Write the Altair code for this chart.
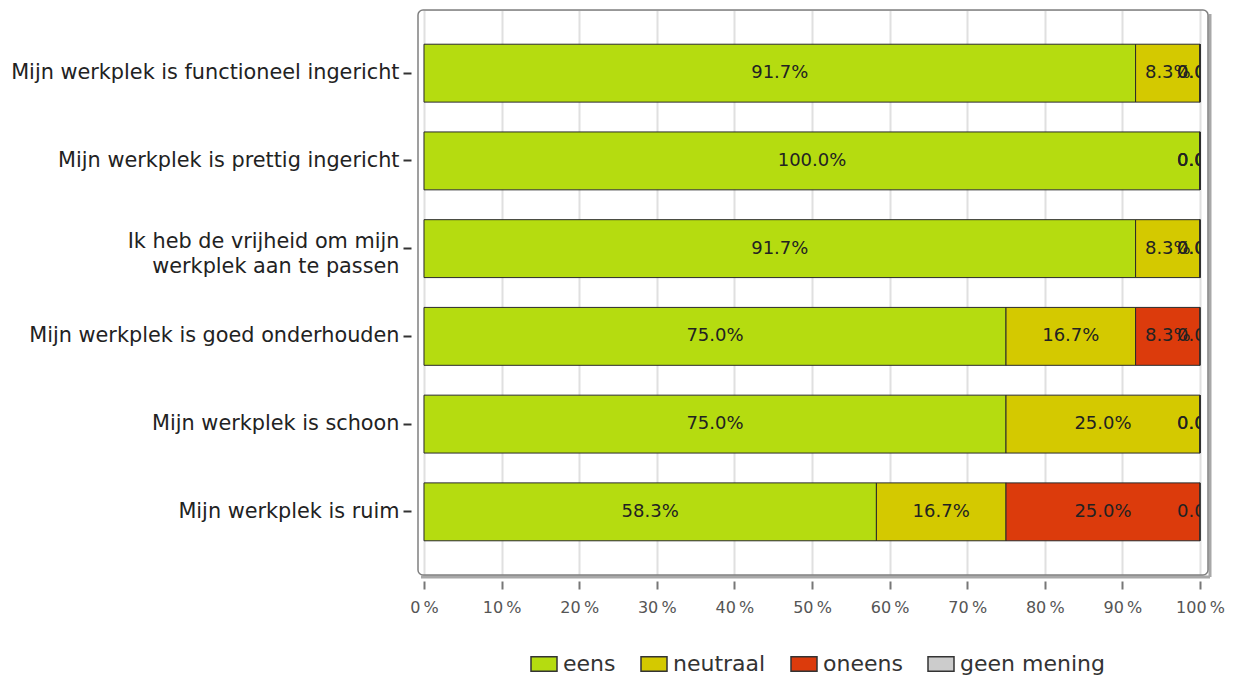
import altair as alt
import pandas as pd

categories = [
    "Mijn werkplek is functioneel ingericht",
    "Mijn werkplek is prettig ingericht",
    "Ik heb de vrijheid om mijn|werkplek aan te passen",
    "Mijn werkplek is goed onderhouden",
    "Mijn werkplek is schoon",
    "Mijn werkplek is ruim",
]
series = ["eens", "neutraal", "oneens", "geen mening"]
colors = ["#b5dc10", "#d4c900", "#dc3b0c", "#cccccc"]
eens = [91.7, 100.0, 91.7, 75.0, 75.0, 58.3]
neutraal = [8.3, 0.0, 8.3, 16.7, 25.0, 16.7]
oneens = [0.0, 0.0, 0.0, 8.3, 0.0, 25.0]
geen_mening = [0.0, 0.0, 0.0, 0.0, 0.0, 0.0]
x_ticks = [0.0, 0.1, 0.2, 0.3, 0.4, 0.5, 0.6, 0.7, 0.8, 0.9, 1.0]

vals = {"eens": eens, "neutraal": neutraal, "oneens": oneens, "geen mening": geen_mening}
rows = []
for i, c in enumerate(categories):
    start = 0.0
    for k, s in enumerate(series):
        v = vals[s][i]
        rows.append({"cat": c, "serie": s, "ord": k, "v": v / 100.0,
                     "start": start / 100.0, "end": (start + v) / 100.0,
                     "mid": (start + v / 2) / 100.0, "lbl": f"{v:.1f}%"})
        start += v
df = pd.DataFrame(rows)

W, H = 776, 565
FONT = "DejaVu Sans"

yenc = alt.Y("cat:N", sort=categories, title=None,
             scale=alt.Scale(paddingInner=0.34, paddingOuter=0.39),
             axis=alt.Axis(labelExpr="split(datum.label, '|')", labelFontSize=20.8,
                           labelColor="#222", labelFont=FONT, labelPadding=4,
                           labelLineHeight=25,
                           labelOffset={"condition": {"test": "indexof(datum.value, '|') >= 0",
                                                      "value": -7}, "value": 0},
                           tickSize=8, tickColor="#333", tickWidth=2, offset=13,
                           domain=False, grid=False, labelLimit=600))
xscale = alt.Scale(domain=[0, 1], nice=False, zero=True)
xaxis = alt.Axis(values=x_ticks,
                 labelExpr="format(datum.value * 100, 'd') + '\u2009%'",
                 labelFontSize=16, labelColor="#555", labelFont=FONT, tickSize=8,
                 tickColor="#777", tickWidth=2, offset=6, labelPadding=10, labelFlush=False,
                 domain=False, grid=True, gridColor="#e0e0e0", gridWidth=2, title=None)

frame_df = pd.DataFrame({"a": [0]})
shadow_r = alt.Chart(frame_df).mark_rule(stroke="#a8a8a8", strokeWidth=3).encode(
    x=alt.value(786), y=alt.value(4), y2=alt.value(567))
shadow_b = alt.Chart(frame_df).mark_rule(stroke="#a8a8a8", strokeWidth=3).encode(
    x=alt.value(-3), x2=alt.value(786), y=alt.value(567))
frame = alt.Chart(frame_df).mark_rect(fill="transparent", stroke="#808080", strokeWidth=1.5,
                                      cornerRadius=5).encode(
    x=alt.value(-6), x2=alt.value(784), y=alt.value(0), y2=alt.value(565))

bars = alt.Chart(df).mark_bar(stroke="#2a2a2a", strokeWidth=1, opacity=1).encode(
    y=yenc,
    x=alt.X("start:Q", scale=xscale, axis=xaxis),
    x2="end:Q",
    color=alt.Color("serie:N", sort=series,
                    scale=alt.Scale(domain=series, range=colors),
                    legend=alt.Legend(title=None, orient="none", direction="horizontal",
                                      legendX=106, legendY=640,
                                      symbolType="M-1,-0.55H1V0.55H-1Z", symbolSize=676,
                                      symbolStrokeColor="#333", symbolStrokeWidth=1.5,
                                      symbolOpacity=1, labelFontSize=22, labelColor="#333",
                                      labelFont=FONT, labelOffset=5, columnPadding=22)),
    order=alt.Order("ord:Q"),
)

txt_nz = alt.Chart(df).transform_filter("datum.v > 0").mark_text(
    fontSize=18, font=FONT, color="#222", align="center", baseline="middle").encode(
    y=alt.Y("cat:N", sort=categories), x=alt.X("mid:Q", scale=xscale), text="lbl:N")
txt_z = alt.Chart(df).transform_filter("datum.v == 0").mark_text(
    fontSize=18, font=FONT, color="#222", align="left", baseline="middle", dx=-23,
    clip=True).encode(
    y=alt.Y("cat:N", sort=categories), x=alt.X("mid:Q", scale=xscale), text="lbl:N")

chart = alt.layer(shadow_r, shadow_b, frame, bars, txt_nz, txt_z).properties(
    width=W, height=H,
    autosize=alt.AutoSizeParams(type="none"),
    padding={"left": 416, "top": 2, "right": 30, "bottom": 100},
).configure_view(stroke=None).configure(background="white")

chart.save("out.html", embed_options={"renderer": "svg", "actions": False})
